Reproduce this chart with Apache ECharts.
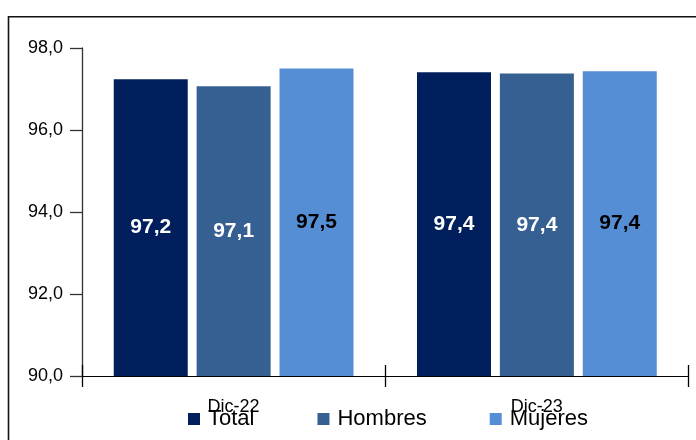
<!DOCTYPE html>
<html>
<head>
<meta charset="utf-8">
<script src="https://cdn.jsdelivr.net/npm/echarts@6/dist/echarts.min.js"></script>
<style>
html,body{margin:0;padding:0;background:#fff;}
#c{width:696px;height:440px;}
</style>
</head>
<body>
<div id="c"></div>
<script>
var categories = ['Dic-22', 'Dic-23'];
var seriesNames = ['Total', 'Hombres', 'Mujeres'];
var totalValues = [97.24, 97.41];
var hombresValues = [97.07, 97.38];
var mujeresValues = [97.50, 97.43];
var yTicks = [90, 92, 94, 96, 98];

var colors = ['#001f5c', '#376092', '#558ed5'];
var labelColors = ['#ffffff', '#ffffff', '#000000'];
var allValues = [totalValues, hombresValues, mujeresValues];

function fmt(v, d) { return v.toFixed(d).replace('.', ','); }

var chart = echarts.init(document.getElementById('c'), null, {renderer: 'canvas'});

var series = seriesNames.map(function (name, i) {
  return {
    name: name,
    type: 'bar',
    xAxisIndex: 0,
    data: allValues[i],
    barWidth: 74,
    barGap: '12%',
    itemStyle: {color: colors[i]},
    label: {
      show: true,
      position: 'inside',
      color: labelColors[i],
      fontFamily: 'Liberation Sans, Arial, sans-serif',
      fontWeight: 'bold',
      fontSize: 21,
      formatter: function (p) { return fmt(p.value, 1); }
    }
  };
});

chart.setOption({
  animation: false,
  backgroundColor: '#fff',
  textStyle: {fontFamily: 'Liberation Sans, Arial, sans-serif'},
  grid: {left: 82, right: 7.5, top: 48, bottom: 64, containLabel: false},
  legend: {
    data: seriesNames,
    left: 188,
    top: 408,
    padding: 0,
    itemWidth: 12,
    itemHeight: 12,
    itemGap: 63,
    icon: 'rect',
    textStyle: {fontSize: 22, color: '#000', padding: [0, 0, 0, 3], fontFamily: 'Liberation Sans, Arial, sans-serif'}
  },
  xAxis: [{
    type: 'category',
    position: 'bottom',
    data: categories,
    axisLine: {lineStyle: {color: '#000', width: 1}},
    axisTick: {show: true, length: 11, lineStyle: {color: '#000', width: 1.3}},
    axisLabel: {fontSize: 18, color: '#000', margin: 22}
  }, {
    type: 'category',
    position: 'bottom',
    data: categories,
    axisLine: {show: false},
    axisTick: {show: true, inside: true, length: 11, lineStyle: {color: '#000', width: 1.3}},
    axisLabel: {show: false}
  }],
  yAxis: {
    type: 'value',
    min: yTicks[0],
    max: yTicks[yTicks.length - 1],
    interval: yTicks[1] - yTicks[0],
    splitLine: {show: false},
    axisLine: {show: true, lineStyle: {color: '#333', width: 1.3}},
    axisTick: {show: true, length: 12, lineStyle: {color: '#333', width: 1.3}},
    axisLabel: {fontSize: 18, color: '#000', margin: 19, formatter: function (v) { return fmt(v, 1); }}
  },
  graphic: [{
    type: 'rect',
    shape: {x: 8.5, y: 16.8, width: 720, height: 460},
    style: {fill: 'none', stroke: '#111', lineWidth: 1.6},
    silent: true,
    z: 100
  }],
  series: series
});
</script>
</body>
</html>
